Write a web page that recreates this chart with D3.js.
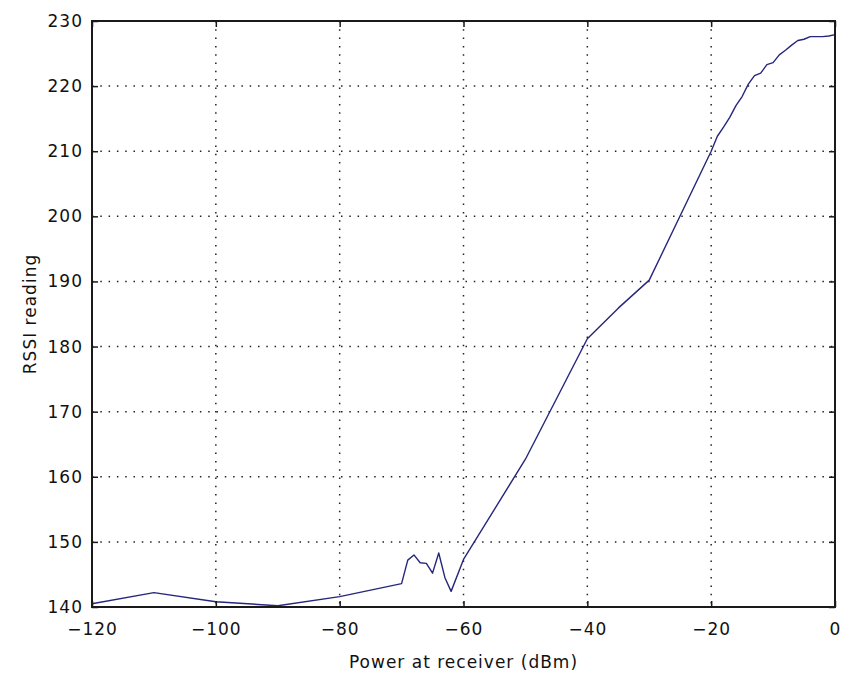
<!DOCTYPE html>
<html>
<head>
<meta charset="utf-8">
<script src="https://cdn.jsdelivr.net/npm/d3@7"></script>
<style>
  body { margin: 0; background: #fff; }
  svg text { font-family: "DejaVu Sans", sans-serif; font-size: 17px; letter-spacing: 1px; fill: #111; }
</style>
</head>
<body>
<svg id="drawing_region"></svg>
<script>
// power at receiver (dBm) and RSSI reading
const power = [-120, -110, -100, -90, -80, -70, -69, -68, -67, -66, -65, -64, -63, -62, -60,
    -50, -40, -35, -30, -20, -19, -18, -17, -16, -15, -14, -13, -12, -11, -10,
    -9, -8, -7, -6, -5, -4, -3, -2, -1, 0];
const rssi = [140.5, 142.2, 140.8, 140.2, 141.6, 143.6, 147.2, 148.0, 146.8, 146.7, 145.2, 148.3, 144.5, 142.4, 147.3,
    162.7, 181.2, 185.9, 190.2, 210.0, 212.3, 213.7, 215.2, 217.0, 218.4, 220.3, 221.6, 222.0, 223.3, 223.6,
    224.8, 225.5, 226.3, 227.0, 227.2, 227.6, 227.6, 227.6, 227.7, 227.9];

const xTicks = [-120, -100, -80, -60, -40, -20, 0];
const yTicks = [140, 150, 160, 170, 180, 190, 200, 210, 220, 230];

const data = power.map((p, i) => ({ x: p, y: rssi[i] }));

const config = {
    width: 843,
    height: 679,
    margin: { top: 21, right: 8, bottom: 72, left: 92 }
};

const svg = d3.select('#drawing_region')
    .attr('width', config.width)
    .attr('height', config.height);

const inner_width = config.width - config.margin.left - config.margin.right;
const inner_height = config.height - config.margin.top - config.margin.bottom;

const chart = svg.append('g')
    .attr('transform', `translate(${config.margin.left}, ${config.margin.top})`);

const xscale = d3.scaleLinear().domain([-120, 0]).range([0, inner_width]);
const yscale = d3.scaleLinear().domain([140, 230]).range([inner_height, 0]);

// dotted grid (not on the box edges)
chart.append('g').selectAll('line')
    .data(xTicks.slice(1, -1))
    .join('line')
    .attr('x1', d => xscale(d)).attr('x2', d => xscale(d))
    .attr('y1', 0).attr('y2', inner_height)
    .attr('stroke', '#222').attr('stroke-width', 1.5)
    .attr('stroke-dasharray', '1.5,6.8');

chart.append('g').selectAll('line')
    .data(yTicks.slice(1, -1))
    .join('line')
    .attr('y1', d => yscale(d)).attr('y2', d => yscale(d))
    .attr('x1', 0).attr('x2', inner_width)
    .attr('stroke', '#222').attr('stroke-width', 1.5)
    .attr('stroke-dasharray', '1.5,6.8');

// data line
const line = d3.line().x(d => xscale(d.x)).y(d => yscale(d.y));
chart.append('path')
    .datum(data)
    .attr('d', line)
    .attr('fill', 'none')
    .attr('stroke', '#26267c')
    .attr('stroke-width', 1.4)
    .attr('stroke-linejoin', 'round');

// axes with inward ticks on all four sides
const xaxis = d3.axisBottom(xscale).tickValues(xTicks).tickSizeInner(-6).tickSizeOuter(0).tickPadding(16);
const yaxis = d3.axisLeft(yscale).tickValues(yTicks).tickSizeInner(-6).tickSizeOuter(0).tickPadding(9);
const xaxis_top = d3.axisTop(xscale).tickValues(xTicks).tickSizeInner(-6).tickSizeOuter(0).tickFormat('');
const yaxis_right = d3.axisRight(yscale).tickValues(yTicks).tickSizeInner(-6).tickSizeOuter(0).tickFormat('');

const axes = [
    chart.append('g').attr('transform', `translate(0, ${inner_height})`).call(xaxis),
    chart.append('g').call(yaxis),
    chart.append('g').call(xaxis_top),
    chart.append('g').attr('transform', `translate(${inner_width}, 0)`).call(yaxis_right)
];
axes.forEach(g => {
    g.select('.domain').remove();
    g.selectAll('.tick line').attr('stroke', '#1a1a1a').attr('stroke-width', 1.5);
    g.selectAll('text').attr('font-family', null).attr('font-size', null);
});

chart.append('rect')
    .attr('width', inner_width)
    .attr('height', inner_height)
    .attr('fill', 'none')
    .attr('stroke', '#1a1a1a')
    .attr('stroke-width', 2);

// axis titles
svg.append('text')
    .attr('x', config.margin.left + inner_width / 2)
    .attr('y', 668)
    .attr('text-anchor', 'middle')
    .text('Power at receiver (dBm)');

svg.append('text')
    .attr('transform', `translate(36, ${config.margin.top + inner_height / 2}) rotate(-90)`)
    .attr('text-anchor', 'middle')
    .text('RSSI reading');
</script>
</body>
</html>
